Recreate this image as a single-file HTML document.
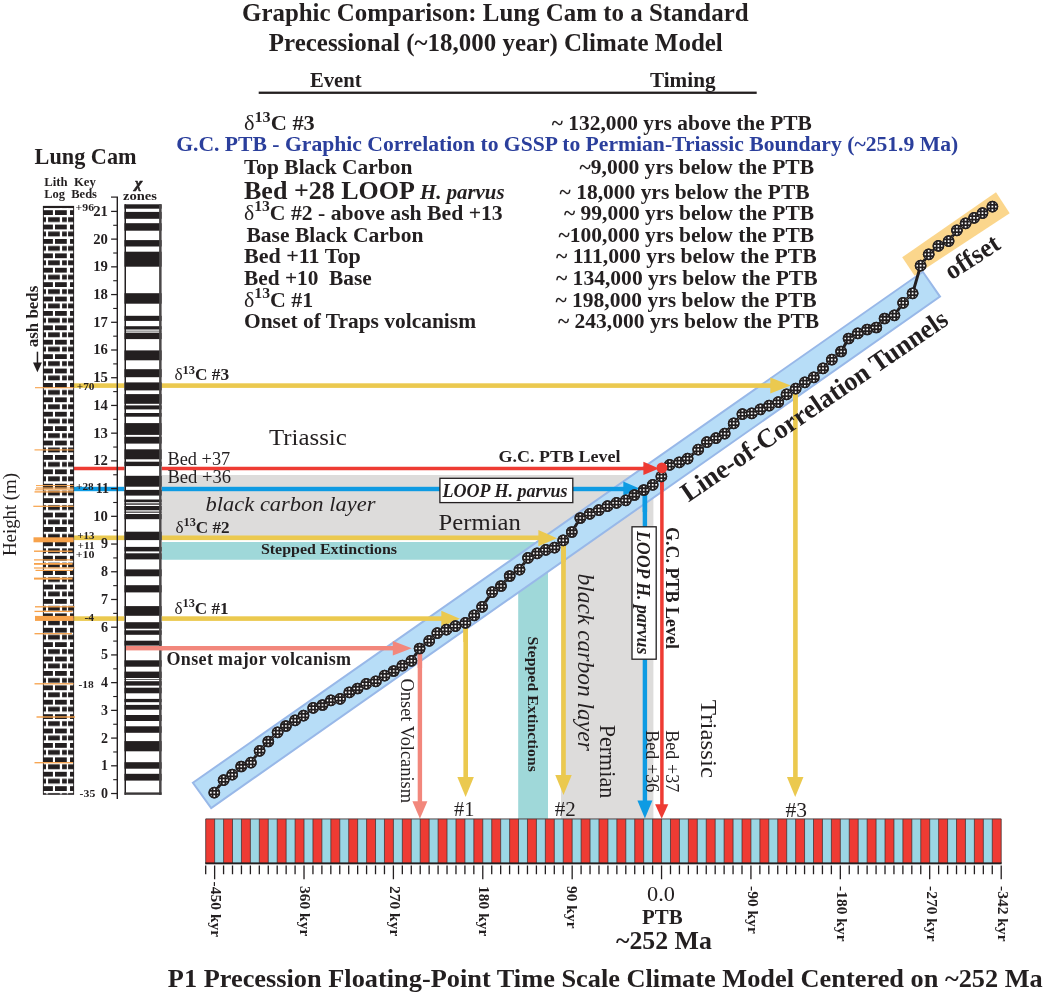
<!DOCTYPE html>
<html lang="en"><head><meta charset="utf-8">
<title>Graphic Comparison: Lung Cam to a Standard Precessional Climate Model</title>
<style>
html,body{margin:0;padding:0;background:#fff;}
body{width:1044px;height:993px;overflow:hidden;}
svg{display:block;font-family:"Liberation Serif", serif;fill:#231f20;}
</style></head><body>
<svg width="1044" height="993" viewBox="0 0 1044 993">
<defs>
<pattern id="brick" x="43" y="210.2" width="40" height="14.4" patternUnits="userSpaceOnUse">
<rect x="0" y="0" width="40" height="14.4" fill="#fff"/>
<g fill="#231f20">
<rect x="0" y="0" width="9.9" height="4.8"/><rect x="12" y="0" width="11.8" height="4.8"/><rect x="27" y="0" width="4" height="4.8"/>
<rect x="0" y="7" width="3" height="4.8"/><rect x="5.1" y="7" width="11.7" height="4.8"/><rect x="19.1" y="7" width="4.7" height="4.8"/><rect x="25.1" y="7" width="6" height="4.8"/>
</g>
</pattern>
<g id="pt"><circle r="5.85" fill="#231f20"/><path fill="#fff" d="M-4.35 -4.35h1.7v1.7h-1.7zM-0.85 -4.35h1.7v1.7h-1.7zM2.65 -4.35h1.7v1.7h-1.7zM-4.35 -0.85h1.7v1.7h-1.7zM-0.85 -0.85h1.7v1.7h-1.7zM2.65 -0.85h1.7v1.7h-1.7zM-4.35 2.65h1.7v1.7h-1.7zM-0.85 2.65h1.7v1.7h-1.7zM2.65 2.65h1.7v1.7h-1.7z"/><circle r="5.1" fill="none" stroke="#231f20" stroke-width="1.5"/></g>
</defs>
<rect width="1044" height="993" fill="#fff"/>

<text x="242" y="21" font-size="25.5" font-weight="bold" textLength="506.6" lengthAdjust="spacingAndGlyphs">Graphic Comparison: Lung Cam to a Standard</text>
<text x="268.8" y="51" font-size="25.5" font-weight="bold" textLength="454" lengthAdjust="spacingAndGlyphs">Precessional (~18,000 year) Climate Model</text>
<text x="310" y="86.8" font-size="20.5" font-weight="bold" textLength="51.6" lengthAdjust="spacingAndGlyphs">Event</text>
<text x="650" y="86.8" font-size="20.5" font-weight="bold" textLength="65.5" lengthAdjust="spacingAndGlyphs">Timing</text>
<rect x="258.7" y="91.6" width="498" height="2.3" fill="#231f20"/>
<text x="244" y="129.9" font-size="20.5" font-weight="bold" textLength="70.8" lengthAdjust="spacingAndGlyphs" xml:space="preserve"><tspan font-weight="normal">δ</tspan><tspan font-size="14.8" dy="-8.2">13</tspan><tspan dy="8.2">C #3</tspan></text>
<text x="244" y="173.6" font-size="20.5" font-weight="bold" textLength="168.4" lengthAdjust="spacingAndGlyphs" xml:space="preserve">Top Black Carbon</text>
<text x="244" y="219.6" font-size="20.5" font-weight="bold" textLength="258.7" lengthAdjust="spacingAndGlyphs" xml:space="preserve"><tspan font-weight="normal">δ</tspan><tspan font-size="14.8" dy="-8.2">13</tspan><tspan dy="8.2">C #2 - above ash Bed +13</tspan></text>
<text x="246.5" y="242.3" font-size="20.5" font-weight="bold" textLength="177" lengthAdjust="spacingAndGlyphs" xml:space="preserve">Base Black Carbon</text>
<text x="244" y="263.4" font-size="20.5" font-weight="bold" textLength="116.7" lengthAdjust="spacingAndGlyphs" xml:space="preserve">Bed +11 Top</text>
<text x="244" y="284.6" font-size="20.5" font-weight="bold" textLength="127.7" lengthAdjust="spacingAndGlyphs" xml:space="preserve">Bed +10  Base</text>
<text x="244" y="306.5" font-size="20.5" font-weight="bold" textLength="69.2" lengthAdjust="spacingAndGlyphs" xml:space="preserve"><tspan font-weight="normal">δ</tspan><tspan font-size="14.8" dy="-8.2">13</tspan><tspan dy="8.2">C #1</tspan></text>
<text x="244" y="327.6" font-size="20.5" font-weight="bold" textLength="232" lengthAdjust="spacingAndGlyphs" xml:space="preserve">Onset of Traps volcanism</text>
<text x="244" y="198.9" font-size="25" font-weight="bold" textLength="260.5" lengthAdjust="spacingAndGlyphs">Bed +28 LOOP <tspan font-size="20" font-style="italic">H. parvus</tspan></text>
<text x="176.2" y="150.6" font-size="20.5" font-weight="bold" textLength="782" lengthAdjust="spacingAndGlyphs" fill="#2b3f9c">G.C. PTB - Graphic Correlation to GSSP to Permian-Triassic Boundary (~251.9 Ma)</text>
<text x="551.7" y="129.9" font-size="20.5" font-weight="bold" textLength="260.2" lengthAdjust="spacingAndGlyphs">~ 132,000 yrs above the PTB</text>
<text x="579.5" y="173.6" font-size="20.5" font-weight="bold" textLength="234.6" lengthAdjust="spacingAndGlyphs">~9,000 yrs below the PTB</text>
<text x="559.6" y="198.9" font-size="20.5" font-weight="bold" textLength="250.0" lengthAdjust="spacingAndGlyphs">~ 18,000 yrs below the PTB</text>
<text x="564" y="219.6" font-size="20.5" font-weight="bold" textLength="250.1" lengthAdjust="spacingAndGlyphs">~ 99,000 yrs below the PTB</text>
<text x="558.6" y="242.3" font-size="20.5" font-weight="bold" textLength="255.5" lengthAdjust="spacingAndGlyphs">~100,000 yrs below the PTB</text>
<text x="556" y="263.4" font-size="20.5" font-weight="bold" textLength="260.6" lengthAdjust="spacingAndGlyphs">~ 111,000 yrs below the PTB</text>
<text x="556" y="284.6" font-size="20.5" font-weight="bold" textLength="261.6" lengthAdjust="spacingAndGlyphs">~ 134,000 yrs below the PTB</text>
<text x="555.5" y="306.5" font-size="20.5" font-weight="bold" textLength="261.1" lengthAdjust="spacingAndGlyphs">~ 198,000 yrs below the PTB</text>
<text x="558" y="327.6" font-size="20.5" font-weight="bold" textLength="261.1" lengthAdjust="spacingAndGlyphs">~ 243,000 yrs below the PTB</text>
<text x="34.6" y="164" font-size="23.5" font-weight="bold" textLength="102" lengthAdjust="spacingAndGlyphs">Lung Cam</text>
<text x="44.2" y="186" font-size="12" font-weight="bold" textLength="51.6" lengthAdjust="spacingAndGlyphs" xml:space="preserve">Lith  Key</text>
<text x="44.2" y="197.7" font-size="12" font-weight="bold" textLength="52.8" lengthAdjust="spacingAndGlyphs" xml:space="preserve">Log  Beds</text>
<text x="138.6" y="187.6" font-size="15.5" font-weight="bold" font-style="italic" text-anchor="middle" stroke="#231f20" stroke-width="0.7">χ</text>
<text x="123" y="200" font-size="13.5" font-weight="bold" textLength="34" lengthAdjust="spacingAndGlyphs">zones</text>
<text x="15.5" y="556" font-size="19.5" textLength="83" lengthAdjust="spacingAndGlyphs" transform="rotate(-90 15.5 556)">Height (m)</text>
<text x="38.3" y="347.2" font-size="17" font-weight="bold" textLength="61.5" lengthAdjust="spacingAndGlyphs" transform="rotate(-90 38.3 347.2)">ash beds</text>
<rect x="36.7" y="351.7" width="1.5" height="12" fill="#231f20"/>
<path d="M33 362.5 L41.9 362.5 L37.4 372.2 Z" fill="#231f20"/>
<path d="M162 475 H653.4 V819 H561 V539 H162 Z" fill="#dddcdb"/>
<path d="M162 542.1 H548 V819 H518.2 V559.8 H162 Z" fill="#9fd8d9"/>
<path d="M192.9 782.8 L922.8 271.8 L940 296.6 L211.2 808 Z" fill="#b7ddf7" stroke="#98b8e8" stroke-width="2" stroke-linejoin="miter"/>
<path d="M902.2 257.3 L996 192.3 L1009.7 213.2 L914.6 275.7 Z" fill="#fbd68c"/>
<rect x="73.6" y="383.3" width="701.4" height="4.6" fill="#ebc94f"/>
<rect x="73.6" y="466.75" width="574.4" height="3.5" fill="#ee3b33"/>
<rect x="73.6" y="486.8" width="552.4" height="4.4" fill="#0e9be3"/>
<rect x="73.6" y="535.5" width="468.4" height="4.6" fill="#ebc94f"/>
<rect x="73.6" y="616.3" width="371.4" height="4.6" fill="#ebc94f"/>
<rect x="126" y="646.0" width="270" height="4.4" fill="#f2877c"/>
<rect x="43" y="206" width="31" height="588.5" fill="url(#brick)"/>
<rect x="43" y="206" width="31" height="2" fill="#231f20"/>
<rect x="43.35" y="206.35" width="30.3" height="587.8" fill="none" stroke="#231f20" stroke-width="0.9"/>
<rect x="35" y="387.15" width="38.6" height="1.1" fill="#f7a24b"/>
<rect x="34.5" y="449.35" width="39.1" height="1.1" fill="#f7a24b"/>
<rect x="36" y="485.1" width="37.6" height="1.0" fill="#f7a24b"/>
<rect x="36" y="487.4" width="37.6" height="1.2" fill="#f7a24b"/>
<rect x="35" y="489.3" width="38.6" height="1.0" fill="#f7a24b"/>
<rect x="34.5" y="491.25" width="39.1" height="1.3" fill="#f7a24b"/>
<rect x="33.3" y="505.7" width="40.3" height="1.2" fill="#f7a24b"/>
<rect x="33.5" y="537.3" width="40.1" height="5.0" fill="#f7a24b"/>
<rect x="34" y="550.5" width="38.5" height="1.4" fill="#f7a24b"/>
<rect x="34" y="559.3" width="38.5" height="1.2" fill="#f7a24b"/>
<rect x="34" y="563.0" width="38.5" height="1.8" fill="#f7a24b"/>
<rect x="34" y="567.4" width="40.5" height="1.2" fill="#f7a24b"/>
<rect x="35.5" y="569.8" width="37.0" height="1.2" fill="#f7a24b"/>
<rect x="34" y="577.6" width="38.5" height="2.0" fill="#f7a24b"/>
<rect x="35" y="606.15" width="39.5" height="1.3" fill="#f7a24b"/>
<rect x="34.5" y="610.75" width="38.0" height="1.3" fill="#f7a24b"/>
<rect x="35" y="615.9" width="38.6" height="5.0" fill="#f7a24b"/>
<rect x="34.5" y="633.05" width="37.5" height="1.3" fill="#f7a24b"/>
<rect x="34.5" y="683.15" width="39.1" height="1.3" fill="#f7a24b"/>
<rect x="36.5" y="716.3" width="38.5" height="1.4" fill="#f7a24b"/>
<rect x="34.5" y="762.05" width="38.5" height="1.3" fill="#f7a24b"/>
<text x="75.6" y="210.6" font-size="11.2" font-weight="bold" textLength="18.4" lengthAdjust="spacingAndGlyphs">+96</text>
<text x="76.8" y="389.8" font-size="11.2" font-weight="bold" textLength="17.7" lengthAdjust="spacingAndGlyphs">+70</text>
<text x="76" y="490" font-size="11.2" font-weight="bold" textLength="17.7" lengthAdjust="spacingAndGlyphs">+28</text>
<text x="77.3" y="538.6" font-size="11.2" font-weight="bold" textLength="17.2" lengthAdjust="spacingAndGlyphs">+13</text>
<text x="77.5" y="549" font-size="11.2" font-weight="bold" textLength="17.0" lengthAdjust="spacingAndGlyphs">+11</text>
<text x="75.7" y="558.3" font-size="11.2" font-weight="bold" textLength="18.8" lengthAdjust="spacingAndGlyphs">+10</text>
<text x="84.4" y="621" font-size="11.2" font-weight="bold" textLength="9.6" lengthAdjust="spacingAndGlyphs">-4</text>
<text x="78.4" y="687.8" font-size="11.2" font-weight="bold" textLength="15.3" lengthAdjust="spacingAndGlyphs">-18</text>
<text x="79.6" y="796.5" font-size="11.2" font-weight="bold" textLength="15.7" lengthAdjust="spacingAndGlyphs">-35</text>
<rect x="116.6" y="197" width="1.4" height="602" fill="#231f20"/>
<rect x="111" y="196.5" width="7" height="1.2" fill="#231f20"/>
<rect x="111.1" y="792.9" width="6" height="1.25" fill="#231f20"/>
<rect x="113.2" y="779.14" width="4" height="1.1" fill="#231f20"/>
<text x="107.9" y="797.9" font-size="14" font-weight="bold" text-anchor="end">0</text>
<rect x="111.1" y="765.18" width="6" height="1.25" fill="#231f20"/>
<rect x="113.2" y="751.42" width="4" height="1.1" fill="#231f20"/>
<text x="107.9" y="770.2" font-size="14" font-weight="bold" text-anchor="end">1</text>
<rect x="111.1" y="737.46" width="6" height="1.25" fill="#231f20"/>
<rect x="113.2" y="723.7" width="4" height="1.1" fill="#231f20"/>
<text x="107.9" y="742.5" font-size="14" font-weight="bold" text-anchor="end">2</text>
<rect x="111.1" y="709.74" width="6" height="1.25" fill="#231f20"/>
<rect x="113.2" y="695.98" width="4" height="1.1" fill="#231f20"/>
<text x="107.9" y="714.7" font-size="14" font-weight="bold" text-anchor="end">3</text>
<rect x="111.1" y="682.02" width="6" height="1.25" fill="#231f20"/>
<rect x="113.2" y="668.26" width="4" height="1.1" fill="#231f20"/>
<text x="107.9" y="687.0" font-size="14" font-weight="bold" text-anchor="end">4</text>
<rect x="111.1" y="654.3" width="6" height="1.25" fill="#231f20"/>
<rect x="113.2" y="640.54" width="4" height="1.1" fill="#231f20"/>
<text x="107.9" y="659.3" font-size="14" font-weight="bold" text-anchor="end">5</text>
<rect x="111.1" y="626.58" width="6" height="1.25" fill="#231f20"/>
<rect x="113.2" y="612.82" width="4" height="1.1" fill="#231f20"/>
<text x="107.9" y="631.6" font-size="14" font-weight="bold" text-anchor="end">6</text>
<rect x="111.1" y="598.86" width="6" height="1.25" fill="#231f20"/>
<rect x="113.2" y="585.1" width="4" height="1.1" fill="#231f20"/>
<text x="107.9" y="603.9" font-size="14" font-weight="bold" text-anchor="end">7</text>
<rect x="111.1" y="571.14" width="6" height="1.25" fill="#231f20"/>
<rect x="113.2" y="557.38" width="4" height="1.1" fill="#231f20"/>
<text x="107.9" y="576.1" font-size="14" font-weight="bold" text-anchor="end">8</text>
<rect x="111.1" y="543.42" width="6" height="1.25" fill="#231f20"/>
<rect x="113.2" y="529.66" width="4" height="1.1" fill="#231f20"/>
<text x="107.9" y="548.4" font-size="14" font-weight="bold" text-anchor="end">9</text>
<rect x="111.1" y="515.7" width="6" height="1.25" fill="#231f20"/>
<rect x="113.2" y="501.94" width="4" height="1.1" fill="#231f20"/>
<text x="107.9" y="520.7" font-size="14" font-weight="bold" text-anchor="end" textLength="14.7" lengthAdjust="spacingAndGlyphs">10</text>
<rect x="111.1" y="487.98" width="6" height="1.25" fill="#231f20"/>
<rect x="113.2" y="474.22" width="4" height="1.1" fill="#231f20"/>
<text x="109" y="493.0" font-size="14" font-weight="bold" text-anchor="end">11</text>
<rect x="111.1" y="460.26" width="6" height="1.25" fill="#231f20"/>
<rect x="113.2" y="446.5" width="4" height="1.1" fill="#231f20"/>
<text x="107.9" y="465.3" font-size="14" font-weight="bold" text-anchor="end" textLength="14.7" lengthAdjust="spacingAndGlyphs">12</text>
<rect x="111.1" y="432.54" width="6" height="1.25" fill="#231f20"/>
<rect x="113.2" y="418.78" width="4" height="1.1" fill="#231f20"/>
<text x="107.9" y="437.5" font-size="14" font-weight="bold" text-anchor="end" textLength="14.7" lengthAdjust="spacingAndGlyphs">13</text>
<rect x="111.1" y="404.82" width="6" height="1.25" fill="#231f20"/>
<rect x="113.2" y="391.06" width="4" height="1.1" fill="#231f20"/>
<text x="107.9" y="409.8" font-size="14" font-weight="bold" text-anchor="end" textLength="14.7" lengthAdjust="spacingAndGlyphs">14</text>
<rect x="111.1" y="377.1" width="6" height="1.25" fill="#231f20"/>
<rect x="113.2" y="363.34" width="4" height="1.1" fill="#231f20"/>
<text x="107.9" y="382.1" font-size="14" font-weight="bold" text-anchor="end" textLength="14.7" lengthAdjust="spacingAndGlyphs">15</text>
<rect x="111.1" y="349.38" width="6" height="1.25" fill="#231f20"/>
<rect x="113.2" y="335.62" width="4" height="1.1" fill="#231f20"/>
<text x="107.9" y="354.4" font-size="14" font-weight="bold" text-anchor="end" textLength="14.7" lengthAdjust="spacingAndGlyphs">16</text>
<rect x="111.1" y="321.66" width="6" height="1.25" fill="#231f20"/>
<rect x="113.2" y="307.9" width="4" height="1.1" fill="#231f20"/>
<text x="107.9" y="326.7" font-size="14" font-weight="bold" text-anchor="end" textLength="14.7" lengthAdjust="spacingAndGlyphs">17</text>
<rect x="111.1" y="293.94" width="6" height="1.25" fill="#231f20"/>
<rect x="113.2" y="280.18" width="4" height="1.1" fill="#231f20"/>
<text x="107.9" y="298.9" font-size="14" font-weight="bold" text-anchor="end" textLength="14.7" lengthAdjust="spacingAndGlyphs">18</text>
<rect x="111.1" y="266.22" width="6" height="1.25" fill="#231f20"/>
<rect x="113.2" y="252.46" width="4" height="1.1" fill="#231f20"/>
<text x="107.9" y="271.2" font-size="14" font-weight="bold" text-anchor="end" textLength="14.7" lengthAdjust="spacingAndGlyphs">19</text>
<rect x="111.1" y="238.5" width="6" height="1.25" fill="#231f20"/>
<rect x="113.2" y="224.74" width="4" height="1.1" fill="#231f20"/>
<text x="107.9" y="243.5" font-size="14" font-weight="bold" text-anchor="end" textLength="14.7" lengthAdjust="spacingAndGlyphs">20</text>
<rect x="111.1" y="210.78" width="6" height="1.25" fill="#231f20"/>
<text x="107.9" y="215.8" font-size="14" font-weight="bold" text-anchor="end" textLength="14.7" lengthAdjust="spacingAndGlyphs">21</text>
<rect x="124.5" y="204.3" width="37.099999999999994" height="590.5" fill="#fff"/>
<rect x="124.5" y="204.3" width="37.099999999999994" height="4.4" fill="#231f20"/>
<rect x="124.5" y="211.9" width="37.099999999999994" height="6.9" fill="#231f20"/>
<rect x="124.5" y="223.2" width="37.099999999999994" height="7.5" fill="#231f20"/>
<rect x="124.5" y="240.1" width="37.099999999999994" height="6.4" fill="#231f20"/>
<rect x="124.5" y="251.7" width="37.099999999999994" height="15.0" fill="#231f20"/>
<rect x="124.5" y="293.2" width="37.099999999999994" height="10.5" fill="#231f20"/>
<rect x="124.5" y="315.8" width="37.099999999999994" height="5.1" fill="#231f20"/>
<rect x="124.5" y="326.2" width="37.099999999999994" height="3.3" fill="#231f20"/>
<rect x="124.5" y="332.7" width="37.099999999999994" height="6.4" fill="#231f20"/>
<rect x="124.5" y="350.4" width="37.099999999999994" height="9.9" fill="#231f20"/>
<rect x="124.5" y="369.2" width="37.099999999999994" height="8.0" fill="#231f20"/>
<rect x="124.5" y="382.4" width="37.099999999999994" height="8.0" fill="#231f20"/>
<rect x="124.5" y="394.1" width="37.099999999999994" height="9.7" fill="#231f20"/>
<rect x="124.5" y="405.4" width="37.099999999999994" height="4.0" fill="#231f20"/>
<rect x="124.5" y="413" width="37.099999999999994" height="3.7" fill="#231f20"/>
<rect x="124.5" y="423.1" width="37.099999999999994" height="11.8" fill="#231f20"/>
<rect x="124.5" y="436.8" width="37.099999999999994" height="6.8" fill="#231f20"/>
<rect x="124.5" y="449.3" width="37.099999999999994" height="10.0" fill="#231f20"/>
<rect x="124.5" y="461.7" width="37.099999999999994" height="4.4" fill="#231f20"/>
<rect x="124.5" y="475.8" width="37.099999999999994" height="10.9" fill="#231f20"/>
<rect x="124.5" y="489.9" width="37.099999999999994" height="5.7" fill="#231f20"/>
<rect x="124.5" y="499.5" width="37.099999999999994" height="2.7" fill="#231f20"/>
<rect x="124.5" y="503.4" width="37.099999999999994" height="1.3" fill="#231f20"/>
<rect x="124.5" y="506" width="37.099999999999994" height="4.3" fill="#231f20"/>
<rect x="124.5" y="511.6" width="37.099999999999994" height="1.1" fill="#231f20"/>
<rect x="124.5" y="514" width="37.099999999999994" height="5.2" fill="#231f20"/>
<rect x="124.5" y="531.7" width="37.099999999999994" height="8.4" fill="#231f20"/>
<rect x="124.5" y="546.9" width="37.099999999999994" height="4.5" fill="#231f20"/>
<rect x="124.5" y="553.3" width="37.099999999999994" height="6.1" fill="#231f20"/>
<rect x="124.5" y="569.4" width="37.099999999999994" height="6.9" fill="#231f20"/>
<rect x="124.5" y="585.2" width="37.099999999999994" height="7.2" fill="#231f20"/>
<rect x="124.5" y="606.1" width="37.099999999999994" height="9.7" fill="#231f20"/>
<rect x="124.5" y="622.2" width="37.099999999999994" height="6.5" fill="#231f20"/>
<rect x="124.5" y="630.3" width="37.099999999999994" height="4.5" fill="#231f20"/>
<rect x="124.5" y="640.7" width="37.099999999999994" height="4.9" fill="#231f20"/>
<rect x="124.5" y="660.3" width="37.099999999999994" height="6.4" fill="#231f20"/>
<rect x="124.5" y="671.6" width="37.099999999999994" height="6.4" fill="#231f20"/>
<rect x="124.5" y="681.2" width="37.099999999999994" height="4.4" fill="#231f20"/>
<rect x="124.5" y="687.7" width="37.099999999999994" height="5.6" fill="#231f20"/>
<rect x="124.5" y="698.9" width="37.099999999999994" height="3.3" fill="#231f20"/>
<rect x="124.5" y="704.9" width="37.099999999999994" height="4.8" fill="#231f20"/>
<rect x="124.5" y="715" width="37.099999999999994" height="6" fill="#231f20"/>
<rect x="124.5" y="726.3" width="37.099999999999994" height="6.5" fill="#231f20"/>
<rect x="124.5" y="741.1" width="37.099999999999994" height="10.2" fill="#231f20"/>
<rect x="124.5" y="762.2" width="37.099999999999994" height="6.5" fill="#231f20"/>
<rect x="124.5" y="773.8" width="37.099999999999994" height="6.8" fill="#231f20"/>
<rect x="124.5" y="330.70000000000005" width="37.099999999999994" height="0.8" fill="#444"/>
<rect x="124.5" y="679.2" width="37.099999999999994" height="0.8" fill="#444"/>
<rect x="124.5" y="204.3" width="1.5" height="590.5" fill="#231f20"/>
<rect x="159.1" y="204.3" width="2.5" height="590.5" fill="#4a4748"/>
<rect x="124.5" y="792.4" width="37.099999999999994" height="2.4" fill="#3a3738"/>
<rect x="126" y="646.0" width="37" height="4.4" fill="#f2877c"/>
<text x="174.4" y="380.4" font-size="16.5" font-weight="bold" textLength="54.8" lengthAdjust="spacingAndGlyphs"><tspan font-weight="normal">δ</tspan><tspan font-size="11.9" dy="-6.6">13</tspan><tspan dy="6.6">C #3</tspan></text>
<text x="175.4" y="532.6" font-size="16.5" font-weight="bold" textLength="54.3" lengthAdjust="spacingAndGlyphs"><tspan font-weight="normal">δ</tspan><tspan font-size="11.9" dy="-6.6">13</tspan><tspan dy="6.6">C #2</tspan></text>
<text x="174.4" y="613.9" font-size="16.5" font-weight="bold" textLength="54.3" lengthAdjust="spacingAndGlyphs"><tspan font-weight="normal">δ</tspan><tspan font-size="11.9" dy="-6.6">13</tspan><tspan dy="6.6">C #1</tspan></text>
<text x="269" y="445.4" font-size="24" textLength="77.8" lengthAdjust="spacingAndGlyphs">Triassic</text>
<text x="438.6" y="529.8" font-size="24" textLength="82.2" lengthAdjust="spacingAndGlyphs">Permian</text>
<text x="167.5" y="465.1" font-size="18" textLength="62.7" lengthAdjust="spacingAndGlyphs">Bed +37</text>
<text x="167.5" y="483.3" font-size="18" textLength="63.5" lengthAdjust="spacingAndGlyphs">Bed +36</text>
<text x="205.6" y="510.7" font-size="22" font-style="italic" textLength="169.8" lengthAdjust="spacingAndGlyphs">black carbon layer</text>
<text x="260.9" y="553.6" font-size="15" font-weight="bold" textLength="136.2" lengthAdjust="spacingAndGlyphs">Stepped Extinctions</text>
<text x="166.5" y="665.4" font-size="18" font-weight="bold" textLength="184.5" lengthAdjust="spacing">Onset major volcanism</text>
<text x="498.5" y="462.4" font-size="17.5" font-weight="bold" textLength="122" lengthAdjust="spacingAndGlyphs">G.C. PTB Level</text>
<rect x="793.1" y="392" width="4.6" height="388" fill="#ebc94f"/>
<rect x="561.2" y="542" width="4.6" height="236" fill="#ebc94f"/>
<rect x="463.4" y="622" width="4.6" height="158" fill="#ebc94f"/>
<rect x="417.7" y="650" width="4.4" height="153" fill="#f2877c"/>
<rect x="642.7" y="494" width="4.4" height="308" fill="#0e9be3"/>
<rect x="660.15" y="470" width="3.5" height="336" fill="#ee3b33"/>
<path d="M795.2 797 L786.95 777 L803.45 777 Z" fill="#ebc94f"/>
<path d="M563.5 795 L555.25 775 L571.75 775 Z" fill="#ebc94f"/>
<path d="M465.6 797 L457.35 777 L473.85 777 Z" fill="#ebc94f"/>
<path d="M419.9 818.7 L412.4 801.2 L427.4 801.2 Z" fill="#f2877c"/>
<path d="M644.9 818.5 L637.4 800.5 L652.4 800.5 Z" fill="#0e9be3"/>
<path d="M661.7 818.7 L655.1 804.2 L668.3000000000001 804.2 Z" fill="#ee3b33"/>
<path d="M790.8 385.5 L770.3 377.4 L770.3 393.6 Z" fill="#ebc94f"/>
<path d="M557 538.2 L538.4 530.1 L538.4 546.3000000000001 Z" fill="#ebc94f"/>
<path d="M459.9 618.8 L441.29999999999995 610.6999999999999 L441.29999999999995 626.9 Z" fill="#ebc94f"/>
<path d="M411.8 648.2 L392.8 640.95 L392.8 655.45 Z" fill="#f2877c"/>
<path d="M639.5 488.6 L623.3 481.45000000000005 L623.3 495.75 Z" fill="#0e9be3"/>
<path d="M659 468.4 L643.4 461.79999999999995 L643.4 475.0 Z" fill="#ee3b33"/>
<rect x="793.1" y="392" width="4.6" height="18" fill="#ebc94f"/>
<rect x="561.2" y="543" width="4.6" height="19" fill="#ebc94f"/>
<rect x="463.4" y="624" width="4.6" height="18" fill="#ebc94f"/>
<rect x="417.7" y="651" width="4.4" height="17" fill="#f2877c"/>
<rect x="642.7" y="492" width="4.4" height="20" fill="#0e9be3"/>
<rect x="660.15" y="470" width="3.5" height="20" fill="#ee3b33"/>
<polyline fill="none" stroke="#231f20" stroke-width="3" stroke-linejoin="round" points="214.3,792.7 223.6,780.2 232.2,774.7 241.2,766.5 250.9,762.6 259.6,750.8 268.3,741.5 277.6,732.3 285.9,726 295.1,720.4 303.5,715.6 313.2,707.8 322.5,705 330.9,700.4 340.1,698.8 349.3,692.4 357.6,688.5 366.3,683.9 375.8,681.4 384.6,675.6 393.7,671 402.4,665.6 411.4,660.8 419.6,648.5 429.2,640.9 437.3,633.1 446.4,629.7 455.4,626.2 465.4,622.9 474.2,615.4 482.1,606.8 492.1,592.2 501,586 509.7,576 519.5,569.6 528,557.8 537.1,553.4 545.8,549.8 554.5,547.6 563.2,540.4 571.8,532 580.3,518 589.7,513.9 598.8,510.2 607.5,506.1 616.5,502.9 625.8,500.3 634.4,495 643.8,490 652.7,484.8 661.4,476.4 661.9,467.8 669.7,464.8 679.2,462.4 687.6,458.6 698.2,449.6 706.9,442.1 716,438.1 724.7,433.6 733.7,423.4 742.4,414.1 751.7,413.4 760.4,409.3 769.1,405.6 778.3,402.1 786.6,394.4 795.7,388.6 804.9,382.3 813.8,377.4 823,368.4 831.8,359.6 841.1,351.5 848.6,338.5 857.8,333.4 867.2,329.5 876.3,327.5 884.6,318.5 894.4,315.3 903.1,302.8 912.6,293.3 920.6,265.7 928.7,254.3 938.4,245.9 948.6,241.1 956.9,230.3 965.6,223.3 974.1,217.8 982.5,213.1 992.4,206.6"/>
<use href="#pt" x="214.3" y="792.7"/>
<use href="#pt" x="223.6" y="780.2"/>
<use href="#pt" x="232.2" y="774.7"/>
<use href="#pt" x="241.2" y="766.5"/>
<use href="#pt" x="250.9" y="762.6"/>
<use href="#pt" x="259.6" y="750.8"/>
<use href="#pt" x="268.3" y="741.5"/>
<use href="#pt" x="277.6" y="732.3"/>
<use href="#pt" x="285.9" y="726"/>
<use href="#pt" x="295.1" y="720.4"/>
<use href="#pt" x="303.5" y="715.6"/>
<use href="#pt" x="313.2" y="707.8"/>
<use href="#pt" x="322.5" y="705"/>
<use href="#pt" x="330.9" y="700.4"/>
<use href="#pt" x="340.1" y="698.8"/>
<use href="#pt" x="349.3" y="692.4"/>
<use href="#pt" x="357.6" y="688.5"/>
<use href="#pt" x="366.3" y="683.9"/>
<use href="#pt" x="375.8" y="681.4"/>
<use href="#pt" x="384.6" y="675.6"/>
<use href="#pt" x="393.7" y="671"/>
<use href="#pt" x="402.4" y="665.6"/>
<use href="#pt" x="411.4" y="660.8"/>
<use href="#pt" x="419.6" y="648.5"/>
<use href="#pt" x="429.2" y="640.9"/>
<use href="#pt" x="437.3" y="633.1"/>
<use href="#pt" x="446.4" y="629.7"/>
<use href="#pt" x="455.4" y="626.2"/>
<use href="#pt" x="465.4" y="622.9"/>
<use href="#pt" x="474.2" y="615.4"/>
<use href="#pt" x="482.1" y="606.8"/>
<use href="#pt" x="492.1" y="592.2"/>
<use href="#pt" x="501" y="586"/>
<use href="#pt" x="509.7" y="576"/>
<use href="#pt" x="519.5" y="569.6"/>
<use href="#pt" x="528" y="557.8"/>
<use href="#pt" x="537.1" y="553.4"/>
<use href="#pt" x="545.8" y="549.8"/>
<use href="#pt" x="554.5" y="547.6"/>
<use href="#pt" x="563.2" y="540.4"/>
<use href="#pt" x="571.8" y="532"/>
<use href="#pt" x="580.3" y="518"/>
<use href="#pt" x="589.7" y="513.9"/>
<use href="#pt" x="598.8" y="510.2"/>
<use href="#pt" x="607.5" y="506.1"/>
<use href="#pt" x="616.5" y="502.9"/>
<use href="#pt" x="625.8" y="500.3"/>
<use href="#pt" x="634.4" y="495"/>
<use href="#pt" x="643.8" y="490"/>
<use href="#pt" x="652.7" y="484.8"/>
<use href="#pt" x="661.4" y="476.4"/>
<use href="#pt" x="669.7" y="464.8"/>
<use href="#pt" x="679.2" y="462.4"/>
<use href="#pt" x="687.6" y="458.6"/>
<use href="#pt" x="698.2" y="449.6"/>
<use href="#pt" x="706.9" y="442.1"/>
<use href="#pt" x="716" y="438.1"/>
<use href="#pt" x="724.7" y="433.6"/>
<use href="#pt" x="733.7" y="423.4"/>
<use href="#pt" x="742.4" y="414.1"/>
<use href="#pt" x="751.7" y="413.4"/>
<use href="#pt" x="760.4" y="409.3"/>
<use href="#pt" x="769.1" y="405.6"/>
<use href="#pt" x="778.3" y="402.1"/>
<use href="#pt" x="786.6" y="394.4"/>
<use href="#pt" x="795.7" y="388.6"/>
<use href="#pt" x="804.9" y="382.3"/>
<use href="#pt" x="813.8" y="377.4"/>
<use href="#pt" x="823" y="368.4"/>
<use href="#pt" x="831.8" y="359.6"/>
<use href="#pt" x="841.1" y="351.5"/>
<use href="#pt" x="848.6" y="338.5"/>
<use href="#pt" x="857.8" y="333.4"/>
<use href="#pt" x="867.2" y="329.5"/>
<use href="#pt" x="876.3" y="327.5"/>
<use href="#pt" x="884.6" y="318.5"/>
<use href="#pt" x="894.4" y="315.3"/>
<use href="#pt" x="903.1" y="302.8"/>
<use href="#pt" x="912.6" y="293.3"/>
<use href="#pt" x="920.6" y="265.7"/>
<use href="#pt" x="928.7" y="254.3"/>
<use href="#pt" x="938.4" y="245.9"/>
<use href="#pt" x="948.6" y="241.1"/>
<use href="#pt" x="956.9" y="230.3"/>
<use href="#pt" x="965.6" y="223.3"/>
<use href="#pt" x="974.1" y="217.8"/>
<use href="#pt" x="982.5" y="213.1"/>
<use href="#pt" x="992.4" y="206.6"/>
<circle cx="661.9" cy="467.9" r="5.4" fill="#ee3b33"/>
<rect x="439.9" y="478.3" width="132.9" height="24.3" fill="#fff" stroke="#231f20" stroke-width="1.3"/>
<text x="442.5" y="497.2" font-size="18" font-weight="bold" font-style="italic" textLength="125" lengthAdjust="spacingAndGlyphs">LOOP H. parvus</text>
<rect x="632" y="526.8" width="24.2" height="132.4" fill="#fff" stroke="#231f20" stroke-width="1.3"/>
<text x="637.2" y="531" font-size="18" font-weight="bold" font-style="italic" textLength="123.4" lengthAdjust="spacingAndGlyphs" transform="rotate(90 637.2 531)">LOOP H. parvus</text>
<text x="688.5" y="502.6" font-size="27" font-weight="bold" textLength="317" lengthAdjust="spacingAndGlyphs" transform="rotate(-34.4 688.5 502.6)">Line-of-Correlation Tunnels</text>
<text x="951.6" y="280.6" font-size="26.5" font-weight="bold" textLength="60" lengthAdjust="spacingAndGlyphs" transform="rotate(-33 951.6 280.6)">offset</text>
<text x="400.8" y="678.6" font-size="19" textLength="124.4" lengthAdjust="spacingAndGlyphs" transform="rotate(90 400.8 678.6)">Onset Volcanism</text>
<text x="527.6" y="636.5" font-size="15" font-weight="bold" textLength="135.5" lengthAdjust="spacingAndGlyphs" transform="rotate(90 527.6 636.5)">Stepped Extinctions</text>
<text x="578.4" y="573.5" font-size="23" font-style="italic" textLength="177.3" lengthAdjust="spacingAndGlyphs" transform="rotate(90 578.4 573.5)">black carbon layer</text>
<text x="599.6" y="724.7" font-size="22.5" textLength="73.5" lengthAdjust="spacingAndGlyphs" transform="rotate(90 599.6 724.7)">Permian</text>
<text x="646.3" y="730.2" font-size="18" textLength="62.2" lengthAdjust="spacingAndGlyphs" transform="rotate(90 646.3 730.2)">Bed +36</text>
<text x="666.2" y="730.2" font-size="18" textLength="62.2" lengthAdjust="spacingAndGlyphs" transform="rotate(90 666.2 730.2)">Bed +37</text>
<text x="700.6" y="699.8" font-size="24" textLength="78.4" lengthAdjust="spacingAndGlyphs" transform="rotate(90 700.6 699.8)">Triassic</text>
<text x="666" y="526.9" font-size="19.5" font-weight="bold" textLength="122" lengthAdjust="spacingAndGlyphs" transform="rotate(90 666 526.9)">G.C. PTB Level</text>
<text x="454" y="816.2" font-size="21.5" textLength="20.3" lengthAdjust="spacingAndGlyphs">#1</text>
<text x="554.8" y="815.8" font-size="21.5" textLength="21" lengthAdjust="spacingAndGlyphs">#2</text>
<text x="785.5" y="817.2" font-size="21.5" textLength="21.5" lengthAdjust="spacingAndGlyphs">#3</text>
<rect x="205.69" y="818.9" width="795.51" height="44.10000000000002" fill="#9bd6e4"/>
<rect x="205.69" y="818.9" width="8.94" height="44.10000000000002" fill="#ee3b33"/>
<rect x="223.57" y="818.9" width="8.94" height="44.10000000000002" fill="#ee3b33"/>
<rect x="241.45" y="818.9" width="8.94" height="44.10000000000002" fill="#ee3b33"/>
<rect x="259.32" y="818.9" width="8.94" height="44.10000000000002" fill="#ee3b33"/>
<rect x="277.2" y="818.9" width="8.94" height="44.10000000000002" fill="#ee3b33"/>
<rect x="295.08" y="818.9" width="8.94" height="44.10000000000002" fill="#ee3b33"/>
<rect x="312.95" y="818.9" width="8.94" height="44.10000000000002" fill="#ee3b33"/>
<rect x="330.83" y="818.9" width="8.94" height="44.10000000000002" fill="#ee3b33"/>
<rect x="348.71" y="818.9" width="8.94" height="44.10000000000002" fill="#ee3b33"/>
<rect x="366.58" y="818.9" width="8.94" height="44.10000000000002" fill="#ee3b33"/>
<rect x="384.46" y="818.9" width="8.94" height="44.10000000000002" fill="#ee3b33"/>
<rect x="402.34" y="818.9" width="8.94" height="44.10000000000002" fill="#ee3b33"/>
<rect x="420.21" y="818.9" width="8.94" height="44.10000000000002" fill="#ee3b33"/>
<rect x="438.09" y="818.9" width="8.94" height="44.10000000000002" fill="#ee3b33"/>
<rect x="455.97" y="818.9" width="8.94" height="44.10000000000002" fill="#ee3b33"/>
<rect x="473.84" y="818.9" width="8.94" height="44.10000000000002" fill="#ee3b33"/>
<rect x="491.72" y="818.9" width="8.94" height="44.10000000000002" fill="#ee3b33"/>
<rect x="509.6" y="818.9" width="8.94" height="44.10000000000002" fill="#ee3b33"/>
<rect x="527.47" y="818.9" width="8.94" height="44.10000000000002" fill="#ee3b33"/>
<rect x="545.35" y="818.9" width="8.94" height="44.10000000000002" fill="#ee3b33"/>
<rect x="563.23" y="818.9" width="8.94" height="44.10000000000002" fill="#ee3b33"/>
<rect x="581.1" y="818.9" width="8.94" height="44.10000000000002" fill="#ee3b33"/>
<rect x="598.98" y="818.9" width="8.94" height="44.10000000000002" fill="#ee3b33"/>
<rect x="616.86" y="818.9" width="8.94" height="44.10000000000002" fill="#ee3b33"/>
<rect x="634.73" y="818.9" width="8.94" height="44.10000000000002" fill="#ee3b33"/>
<rect x="652.61" y="818.9" width="8.94" height="44.10000000000002" fill="#ee3b33"/>
<rect x="670.49" y="818.9" width="8.94" height="44.10000000000002" fill="#ee3b33"/>
<rect x="688.37" y="818.9" width="8.94" height="44.10000000000002" fill="#ee3b33"/>
<rect x="706.24" y="818.9" width="8.94" height="44.10000000000002" fill="#ee3b33"/>
<rect x="724.12" y="818.9" width="8.94" height="44.10000000000002" fill="#ee3b33"/>
<rect x="742.0" y="818.9" width="8.94" height="44.10000000000002" fill="#ee3b33"/>
<rect x="759.87" y="818.9" width="8.94" height="44.10000000000002" fill="#ee3b33"/>
<rect x="777.75" y="818.9" width="8.94" height="44.10000000000002" fill="#ee3b33"/>
<rect x="795.63" y="818.9" width="8.94" height="44.10000000000002" fill="#ee3b33"/>
<rect x="813.5" y="818.9" width="8.94" height="44.10000000000002" fill="#ee3b33"/>
<rect x="831.38" y="818.9" width="8.94" height="44.10000000000002" fill="#ee3b33"/>
<rect x="849.26" y="818.9" width="8.94" height="44.10000000000002" fill="#ee3b33"/>
<rect x="867.13" y="818.9" width="8.94" height="44.10000000000002" fill="#ee3b33"/>
<rect x="885.01" y="818.9" width="8.94" height="44.10000000000002" fill="#ee3b33"/>
<rect x="902.89" y="818.9" width="8.94" height="44.10000000000002" fill="#ee3b33"/>
<rect x="920.76" y="818.9" width="8.94" height="44.10000000000002" fill="#ee3b33"/>
<rect x="938.64" y="818.9" width="8.94" height="44.10000000000002" fill="#ee3b33"/>
<rect x="956.52" y="818.9" width="8.94" height="44.10000000000002" fill="#ee3b33"/>
<rect x="974.39" y="818.9" width="8.94" height="44.10000000000002" fill="#ee3b33"/>
<rect x="992.27" y="818.9" width="8.94" height="44.10000000000002" fill="#ee3b33"/>
<path d="M205.69 818.9V863M214.63 818.9V863M223.57 818.9V863M232.51 818.9V863M241.45 818.9V863M250.39 818.9V863M259.32 818.9V863M268.26 818.9V863M277.2 818.9V863M286.14 818.9V863M295.08 818.9V863M304.02 818.9V863M312.95 818.9V863M321.89 818.9V863M330.83 818.9V863M339.77 818.9V863M348.71 818.9V863M357.65 818.9V863M366.58 818.9V863M375.52 818.9V863M384.46 818.9V863M393.4 818.9V863M402.34 818.9V863M411.28 818.9V863M420.21 818.9V863M429.15 818.9V863M438.09 818.9V863M447.03 818.9V863M455.97 818.9V863M464.91 818.9V863M473.84 818.9V863M482.78 818.9V863M491.72 818.9V863M500.66 818.9V863M509.6 818.9V863M518.54 818.9V863M527.47 818.9V863M536.41 818.9V863M545.35 818.9V863M554.29 818.9V863M563.23 818.9V863M572.17 818.9V863M581.1 818.9V863M590.04 818.9V863M598.98 818.9V863M607.92 818.9V863M616.86 818.9V863M625.8 818.9V863M634.73 818.9V863M643.67 818.9V863M652.61 818.9V863M661.55 818.9V863M670.49 818.9V863M679.43 818.9V863M688.37 818.9V863M697.3 818.9V863M706.24 818.9V863M715.18 818.9V863M724.12 818.9V863M733.06 818.9V863M742.0 818.9V863M750.93 818.9V863M759.87 818.9V863M768.81 818.9V863M777.75 818.9V863M786.69 818.9V863M795.63 818.9V863M804.56 818.9V863M813.5 818.9V863M822.44 818.9V863M831.38 818.9V863M840.32 818.9V863M849.26 818.9V863M858.19 818.9V863M867.13 818.9V863M876.07 818.9V863M885.01 818.9V863M893.95 818.9V863M902.89 818.9V863M911.82 818.9V863M920.76 818.9V863M929.7 818.9V863M938.64 818.9V863M947.58 818.9V863M956.52 818.9V863M965.45 818.9V863M974.39 818.9V863M983.33 818.9V863M992.27 818.9V863M1001.21 818.9V863" stroke="#3a2a2a" stroke-width="0.7" fill="none"/>
<rect x="205.69" y="818.5" width="795.51" height="0.9" fill="#4a3a3a"/>
<rect x="205.19" y="862.4" width="796.51" height="1.9" fill="#231f20"/>
<path d="M205.69 865.4V874.2M214.63 865.4V879.3M223.57 865.4V874.2M232.51 865.4V874.2M241.45 865.4V874.2M250.39 865.4V874.2M259.32 865.4V874.2M268.26 865.4V874.2M277.2 865.4V874.2M286.14 865.4V874.2M295.08 865.4V874.2M304.02 865.4V879.3M312.95 865.4V874.2M321.89 865.4V874.2M330.83 865.4V874.2M339.77 865.4V874.2M348.71 865.4V874.2M357.65 865.4V874.2M366.58 865.4V874.2M375.52 865.4V874.2M384.46 865.4V874.2M393.4 865.4V879.3M402.34 865.4V874.2M411.28 865.4V874.2M420.21 865.4V874.2M429.15 865.4V874.2M438.09 865.4V874.2M447.03 865.4V874.2M455.97 865.4V874.2M464.91 865.4V874.2M473.84 865.4V874.2M482.78 865.4V879.3M491.72 865.4V874.2M500.66 865.4V874.2M509.6 865.4V874.2M518.54 865.4V874.2M527.47 865.4V874.2M536.41 865.4V874.2M545.35 865.4V874.2M554.29 865.4V874.2M563.23 865.4V874.2M572.17 865.4V879.3M581.1 865.4V874.2M590.04 865.4V874.2M598.98 865.4V874.2M607.92 865.4V874.2M616.86 865.4V874.2M625.8 865.4V874.2M634.73 865.4V874.2M643.67 865.4V874.2M652.61 865.4V874.2M661.55 865.4V879.3M670.49 865.4V874.2M679.43 865.4V874.2M688.37 865.4V874.2M697.3 865.4V874.2M706.24 865.4V874.2M715.18 865.4V874.2M724.12 865.4V874.2M733.06 865.4V874.2M742.0 865.4V874.2M750.93 865.4V879.3M759.87 865.4V874.2M768.81 865.4V874.2M777.75 865.4V874.2M786.69 865.4V874.2M795.63 865.4V874.2M804.56 865.4V874.2M813.5 865.4V874.2M822.44 865.4V874.2M831.38 865.4V874.2M840.32 865.4V879.3M849.26 865.4V874.2M858.19 865.4V874.2M867.13 865.4V874.2M876.07 865.4V874.2M885.01 865.4V874.2M893.95 865.4V874.2M902.89 865.4V874.2M911.82 865.4V874.2M920.76 865.4V874.2M929.7 865.4V879.3M938.64 865.4V874.2M947.58 865.4V874.2M956.52 865.4V874.2M965.45 865.4V874.2M974.39 865.4V874.2M983.33 865.4V874.2M992.27 865.4V874.2M1001.21 865.4V879.3" stroke="#231f20" stroke-width="1.3" fill="none"/>
<text x="210.8" y="881.6" font-size="15.5" font-weight="bold" transform="rotate(90 210.8 881.6)">-450 kyr</text>
<text x="300.2" y="886" font-size="15.5" font-weight="bold" transform="rotate(90 300.2 886)">360 kyr</text>
<text x="389.6" y="886" font-size="15.5" font-weight="bold" transform="rotate(90 389.6 886)">270 kyr</text>
<text x="479.0" y="886" font-size="15.5" font-weight="bold" transform="rotate(90 479.0 886)">180 kyr</text>
<text x="567.2" y="886" font-size="15.5" font-weight="bold" transform="rotate(90 567.2 886)">90 kyr</text>
<text x="748.0" y="886" font-size="15.5" font-weight="bold" transform="rotate(90 748.0 886)">-90 kyr</text>
<text x="837.4" y="886" font-size="15.5" font-weight="bold" transform="rotate(90 837.4 886)">-180 kyr</text>
<text x="926.8" y="886" font-size="15.5" font-weight="bold" transform="rotate(90 926.8 886)">-270 kyr</text>
<text x="998.3" y="886" font-size="15.5" font-weight="bold" transform="rotate(90 998.3 886)">-342 kyr</text>
<text x="647.1" y="901.4" font-size="20.5" textLength="27.9" lengthAdjust="spacingAndGlyphs">0.0</text>
<text x="642.1" y="923.8" font-size="20.5" font-weight="bold" textLength="40.6" lengthAdjust="spacingAndGlyphs">PTB</text>
<text x="616" y="948.8" font-size="26" font-weight="bold" textLength="95.9" lengthAdjust="spacingAndGlyphs">~252 Ma</text>
<text x="167.8" y="986.6" font-size="26" font-weight="bold" textLength="875" lengthAdjust="spacingAndGlyphs">P1 Precession Floating-Point Time Scale Climate Model Centered on ~252 Ma</text>
</svg>
</body></html>
